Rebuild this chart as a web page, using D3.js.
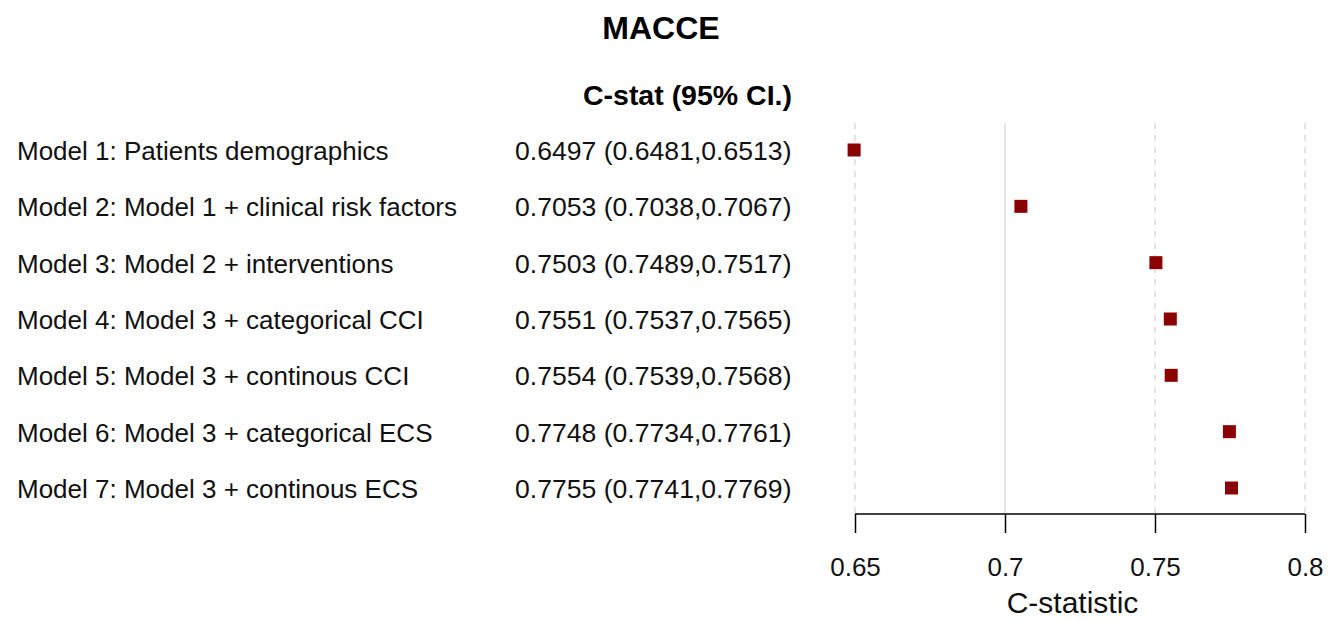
<!DOCTYPE html>
<html>
<head>
<meta charset="utf-8">
<script src="https://cdn.jsdelivr.net/npm/d3@7"></script>
<style>
  body { margin: 0; background: #fff; }
  svg text { font-family: "Liberation Sans", Arial, sans-serif; }
</style>
</head>
<body>
<div class="forest"></div>
<script>
// data
const models = [
  "Model 1: Patients demographics",
  "Model 2: Model 1 + clinical risk factors",
  "Model 3: Model 2 + interventions",
  "Model 4: Model 3 + categorical CCI",
  "Model 5: Model 3 + continous CCI",
  "Model 6: Model 3 + categorical ECS",
  "Model 7: Model 3 + continous ECS"
]
const cstat = [0.6497, 0.7053, 0.7503, 0.7551, 0.7554, 0.7748, 0.7755]
const lower = [0.6481, 0.7038, 0.7489, 0.7537, 0.7539, 0.7734, 0.7741]
const upper = [0.6513, 0.7067, 0.7517, 0.7565, 0.7568, 0.7761, 0.7769]
const xTicks = [0.65, 0.7, 0.75, 0.8]
const refLine = 0.7

const width = 1328, height = 621

const svg = d3.select(".forest").append("svg")
  .attr("width", width).attr("height", height)

const xScale = d3.scaleLinear().domain([0.65, 0.8]).range([855, 1305])
const yScale = d3.scalePoint().domain(d3.range(models.length)).range([150, 488])

const fmt = d3.format(".4f")

// title
svg.append("text")
  .attr("x", 661).attr("y", 39)
  .attr("text-anchor", "middle")
  .attr("font-size", 32).attr("font-weight", "bold")
  .text("MACCE")

// column header
svg.append("text")
  .attr("x", 792).attr("y", 105)
  .attr("text-anchor", "end")
  .attr("font-size", 28.5).attr("font-weight", "bold")
  .text("C-stat (95% CI.)")

// grid lines
const gridTop = 123, axisY = 514
svg.append("g")
  .selectAll("line")
  .data(xTicks)
  .enter()
  .append("line")
  .attr("x1", d => xScale(d)).attr("x2", d => xScale(d))
  .attr("y1", gridTop).attr("y2", axisY)
  .attr("stroke", "#dcdcdc")
  .attr("stroke-width", 1.5)
  .attr("stroke-dasharray", d => d === refLine ? null : "6,6")

// row labels
const rows = svg.append("g")
rows.selectAll(".label")
  .data(models)
  .enter()
  .append("text")
  .attr("class", "label")
  .attr("x", 17)
  .attr("y", (d, i) => yScale(i) + 10)
  .attr("font-size", 26)
  .attr("fill", "#111")
  .text(d => d)

rows.selectAll(".value")
  .data(models)
  .enter()
  .append("text")
  .attr("class", "value")
  .attr("x", 515)
  .attr("y", (d, i) => yScale(i) + 10)
  .attr("font-size", 26.6)
  .attr("fill", "#111")
  .text((d, i) => fmt(cstat[i]) + " (" + fmt(lower[i]) + "," + fmt(upper[i]) + ")")

// CI whiskers (very short, mostly hidden under the boxes)
svg.append("g")
  .selectAll("line")
  .data(models)
  .enter()
  .append("line")
  .attr("x1", (d, i) => xScale(lower[i]))
  .attr("x2", (d, i) => xScale(upper[i]))
  .attr("y1", (d, i) => yScale(i)).attr("y2", (d, i) => yScale(i))
  .attr("stroke", "#8b0000").attr("stroke-width", 1.5)

// point boxes
const box = 13
svg.append("g")
  .selectAll("rect")
  .data(models)
  .enter()
  .append("rect")
  .attr("x", (d, i) => xScale(cstat[i]) - box / 2)
  .attr("y", (d, i) => yScale(i) - box / 2)
  .attr("width", box).attr("height", box)
  .attr("fill", "#8b0000")

// x axis
const axis = svg.append("g")
  .attr("transform", "translate(0," + axisY + ")")
  .call(d3.axisBottom(xScale).tickValues(xTicks).tickSize(19).tickPadding(25)
    .tickFormat(d => String(d)))
axis.select(".domain").attr("stroke", "#000").attr("stroke-width", 1.5)
  .attr("d", "M" + xScale(0.65) + ",0H" + xScale(0.8))
axis.selectAll(".tick line").attr("stroke", "#000").attr("stroke-width", 1.5)
axis.selectAll(".tick text")
  .attr("font-size", 26).attr("fill", "#111")
  .attr("font-family", "Liberation Sans, Arial, sans-serif")

svg.append("text")
  .attr("x", xScale(0.7225)).attr("y", 613)
  .attr("text-anchor", "middle")
  .attr("font-size", 30)
  .attr("fill", "#111")
  .text("C-statistic")
</script>
</body>
</html>
